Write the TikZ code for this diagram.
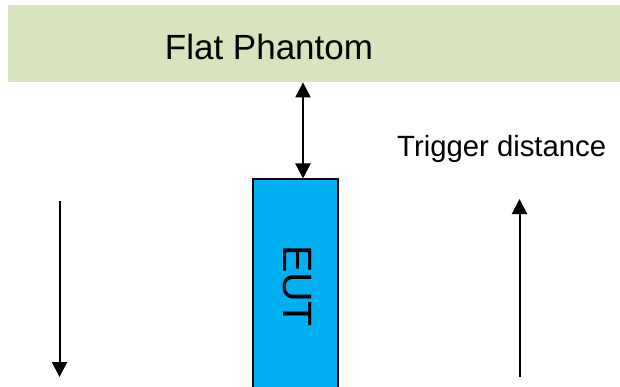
\documentclass[tikz,border=0pt]{standalone}
\usepackage{fontspec}
\setmainfont{Liberation Sans}
\usetikzlibrary{arrows.meta}
\definecolor{phantomgreen}{HTML}{D7E4BD}
\definecolor{eutblue}{HTML}{00B0F0}
\begin{document}
\begin{tikzpicture}[x=1pt,y=-1pt,
  phantombox/.style={fill=phantomgreen, draw=none, anchor=north west, inner sep=0pt},
  eutbox/.style={fill=eutblue, draw=black, line width=1.5pt, anchor=north west, inner sep=0pt},
  arr/.style={line width=2pt, -{Triangle[length=15pt,width=15pt]}},
  dblarr/.style={line width=2pt, {Triangle[length=15pt,width=15pt]}-{Triangle[length=15pt,width=15pt]}},
  lbl/.style={inner sep=0pt}]
\useasboundingbox (0,0) rectangle (620,387);
\node[phantombox, minimum width=620pt, minimum height=77pt] (phantom) at (8,5) {};
\node[lbl, anchor=base, font=\fontsize{35}{40}\selectfont] (title) at (269,60) {Flat Phantom};
\node[eutbox, minimum width=85pt, minimum height=215pt] (eut) at (252,178.5) {};
\node[lbl, rotate=-90, font=\fontsize{41}{46}\selectfont] (euttext) at (297,286) {EUT};
\node[lbl, anchor=base west, font=\fontsize{29.3}{34}\selectfont] (trig) at (397,157) {Trigger distance};
\coordinate (ax) at (303,0);
\draw[dblarr] (phantom.south -| ax) -- (eut.north -| ax);
\coordinate (ltop) at (59.5,201.5);
\coordinate (lbot) at (59.5,377);
\draw[arr] (ltop) -- (lbot);
\coordinate (rbot) at (519.5,377);
\coordinate (rtop) at (519.5,199);
\draw[arr] (rbot) -- (rtop);
\end{tikzpicture}
\end{document}
